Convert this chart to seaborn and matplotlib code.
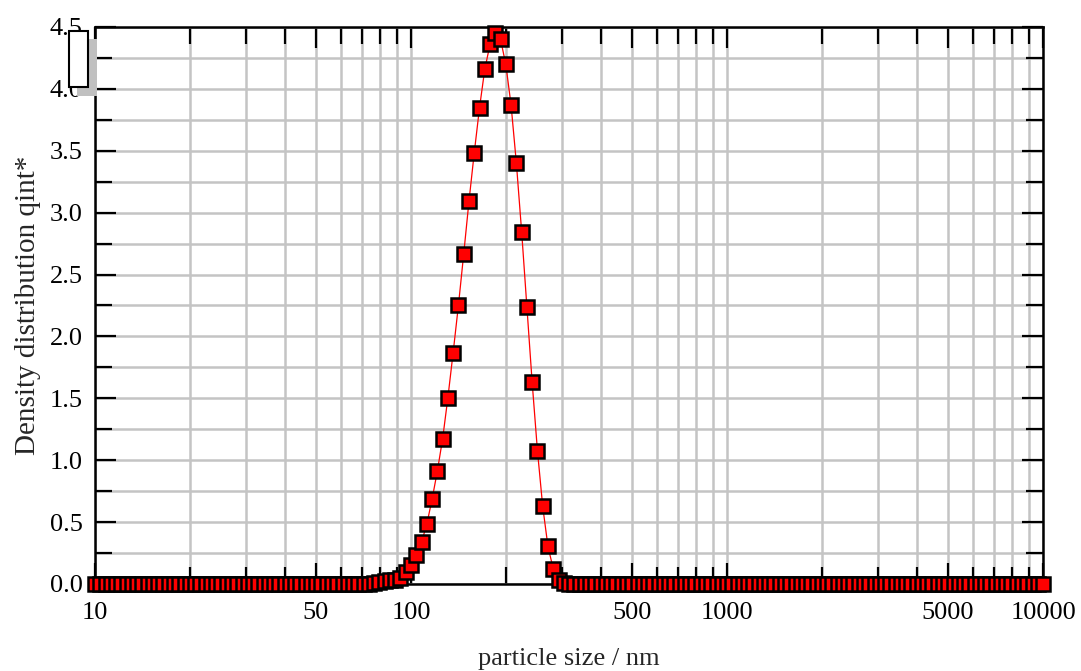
import numpy as np
import pandas as pd
import matplotlib
matplotlib.use('Agg')
import matplotlib.pyplot as plt
from matplotlib.patches import Rectangle
from matplotlib.ticker import FixedLocator, FixedFormatter, NullFormatter
import seaborn as sns

# measurement bins: 60 per decade, 10 nm .. 10000 nm
bin_mantissa = [1.000, 1.039, 1.080, 1.122, 1.166, 1.212, 1.259, 1.308, 1.359, 1.413,
                1.468, 1.525, 1.585, 1.647, 1.711, 1.778, 1.848, 1.920, 1.995, 2.073,
                2.154, 2.239, 2.326, 2.417, 2.512, 2.610, 2.712, 2.818, 2.929, 3.043,
                3.162, 3.286, 3.415, 3.548, 3.687, 3.831, 3.981, 4.137, 4.299, 4.467,
                4.642, 4.823, 5.012, 5.208, 5.412, 5.623, 5.843, 6.072, 6.310, 6.556,
                6.813, 7.079, 7.356, 7.644, 7.943, 8.254, 8.577, 8.913, 9.261, 9.624]
decades = [10, 100, 1000]
last_bin = 10000

# density values (bins 52..89), all other bins are 0
peak_first_bin = 52
peak_q = [0.000, 0.004, 0.015, 0.025, 0.030, 0.035, 0.048, 0.093, 0.150, 0.234,
          0.339, 0.484, 0.686, 0.915, 1.174, 1.505, 1.869, 2.255, 2.667, 3.090,
          3.483, 3.847, 4.157, 4.359, 4.448, 4.399, 4.197, 3.868, 3.403, 2.845,
          2.238, 1.629, 1.077, 0.627, 0.303, 0.123, 0.034, 0.008]

x_major = [10, 50, 100, 500, 1000, 5000, 10000]
x_major_labels = ['10', '50', '100', '500', '1000', '5000', '10000']
x_minor = [20, 30, 40, 60, 70, 80, 90, 200, 300, 400, 600, 700, 800, 900,
           2000, 3000, 4000, 6000, 7000, 8000, 9000]
y_major = [0.0, 0.5, 1.0, 1.5, 2.0, 2.5, 3.0, 3.5, 4.0, 4.5]
y_minor = [0.25, 0.75, 1.25, 1.75, 2.25, 2.75, 3.25, 3.75, 4.25]

sizes = [d * m for d in decades for m in bin_mantissa] + [last_bin]
q = np.zeros(len(sizes))
q[peak_first_bin:peak_first_bin + len(peak_q)] = peak_q
df = pd.DataFrame({'size': sizes, 'q': q})

sns.set_style('ticks')
plt.rcParams['font.family'] = ['Liberation Serif', 'DejaVu Serif']

fig = plt.figure(figsize=(10.81, 6.71), dpi=100)
ax = fig.add_axes([0.0879, 0.1297, 0.8770, 0.8301])

sns.lineplot(data=df, x='size', y='q', ax=ax, color='red', lw=0.9,
             marker='s', markersize=9.5, markerfacecolor='red',
             markeredgecolor='black', markeredgewidth=1.8,
             clip_on=False, zorder=5, sort=False, errorbar=None)

ax.set_xscale('log')
ax.set_xlim(10, 10000)
ax.set_ylim(0, 4.5)
ax.xaxis.set_major_locator(FixedLocator(x_major))
ax.xaxis.set_major_formatter(FixedFormatter(x_major_labels))
ax.xaxis.set_minor_locator(FixedLocator(x_minor))
ax.xaxis.set_minor_formatter(NullFormatter())
ax.yaxis.set_major_locator(FixedLocator(y_major))
ax.yaxis.set_major_formatter(FixedFormatter([f'{v:.1f}' for v in y_major]))
ax.yaxis.set_minor_locator(FixedLocator(y_minor))

ax.grid(which='both', color='#c4c4c4', lw=1.8)
ax.set_axisbelow(True)
ax.tick_params(which='both', direction='in', top=True, right=True,
               width=1.6, colors='black', labelsize=19)
ax.tick_params(axis='y', pad=9)
ax.tick_params(axis='x', pad=13)
ax.tick_params(which='major', length=15)
ax.tick_params(which='minor', length=12)
for s in ax.spines.values():
    s.set_linewidth(1.8)
    s.set_color('black')

ax.set_xlabel('particle size / nm', fontsize=19, labelpad=17)
ax.set_ylabel('Density distribution qint*', fontsize=21, labelpad=6)

# empty legend box with shadow (top left)
W, H = 1081, 671
fig.patches.append(Rectangle((77 / W, 1 - 96 / H), 20 / W, 57 / H,
                             transform=fig.transFigure, facecolor='#c0c0c0',
                             edgecolor='none', zorder=10))
fig.patches.append(Rectangle((69 / W, 1 - 87 / H), 19 / W, 56 / H,
                             transform=fig.transFigure, facecolor='white',
                             edgecolor='black', lw=1.5, zorder=11))

fig.savefig('out.png', dpi=100)
